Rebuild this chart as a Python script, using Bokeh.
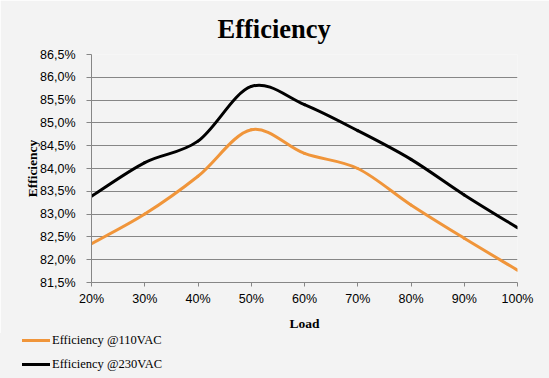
from bokeh.plotting import figure
from bokeh.models import Range1d, FixedTicker, ColumnDataSource, Div
from bokeh.layouts import column
from bokeh.embed import file_html
from bokeh.resources import INLINE

# ---- data ----
load = [20, 30, 40, 50, 60, 70, 80, 90, 100]
eff_110 = [82.35, 83.0, 83.83, 84.85, 84.33, 84.0, 83.2, 82.47, 81.77]
eff_230 = [83.39, 84.13, 84.6, 85.8, 85.4, 84.83, 84.2, 83.42, 82.7]
series_names = ["Efficiency @110VAC", "Efficiency @230VAC"]
x_ticks = [20, 30, 40, 50, 60, 70, 80, 90, 100]
x_tick_labels = ["20%", "30%", "40%", "50%", "60%", "70%", "80%", "90%", "100%"]
y_ticks = [81.5, 82.0, 82.5, 83.0, 83.5, 84.0, 84.5, 85.0, 85.5, 86.0, 86.5]
y_tick_labels = ["81,5%", "82,0%", "82,5%", "83,0%", "83,5%", "84,0%",
                 "84,5%", "85,0%", "85,5%", "86,0%", "86,5%"]

BG = "#f3f3f3"
GRID = "#868686"
ORANGE = "#F0953A"
BLACK = "#000000"
SANS = "Liberation Sans"
SERIF = "Liberation Serif"
series_colors = [ORANGE, BLACK]


def smooth_segments(xs, ys):
    """Bezier control points for an Excel-like smoothed line through the data."""
    n = len(xs)
    d = dict(x0=[], y0=[], x1=[], y1=[], cx0=[], cy0=[], cx1=[], cy1=[])
    for i in range(n - 1):
        xm, ym = (xs[i - 1], ys[i - 1]) if i > 0 else (xs[i], ys[i])
        xp, yp = (xs[i + 2], ys[i + 2]) if i + 2 < n else (xs[i + 1], ys[i + 1])
        d["x0"].append(xs[i]); d["y0"].append(ys[i])
        d["x1"].append(xs[i + 1]); d["y1"].append(ys[i + 1])
        d["cx0"].append(xs[i] + (xs[i + 1] - xm) / 6.0)
        d["cy0"].append(ys[i] + (ys[i + 1] - ym) / 6.0)
        d["cx1"].append(xs[i + 1] - (xp - xs[i]) / 6.0)
        d["cy1"].append(ys[i + 1] - (yp - ys[i]) / 6.0)
    return ColumnDataSource(d)


p = figure(width=549, height=333, output_backend="svg", toolbar_location=None,
           x_range=Range1d(20, 100), y_range=Range1d(81.5, 86.5),
           min_border_left=91, min_border_right=32, min_border_top=54, min_border_bottom=48)
p.background_fill_color = BG
p.border_fill_color = BG
p.outline_line_color = None

p.title.text = "Efficiency"
p.title.align = "left"
p.title.offset = 126
p.title.text_font = SERIF
p.title.text_font_style = "bold"
p.title.text_font_size = "26.5px"
p.title.text_color = "#000000"
p.title.standoff = 22

# axes
p.xaxis.ticker = FixedTicker(ticks=x_ticks)
p.xaxis.major_label_overrides = {t: l for t, l in zip(x_ticks, x_tick_labels)}
p.yaxis.ticker = FixedTicker(ticks=y_ticks)
p.yaxis.major_label_overrides = {t: l for t, l in zip(y_ticks, y_tick_labels)}
for ax in (p.xaxis[0], p.yaxis[0]):
    ax.axis_line_color = GRID
    ax.major_tick_line_color = GRID
    ax.major_tick_in = 0
    ax.minor_tick_line_color = None
    ax.major_label_text_font = SANS
    ax.major_label_text_font_size = "12.5px"
    ax.major_label_text_color = "#000000"
    ax.axis_label_text_font = SERIF
    ax.axis_label_text_font_style = "bold"
    ax.axis_label_text_font_size = "13.5px"
    ax.axis_label_text_color = "#000000"
p.yaxis.major_tick_out = 5
p.xaxis.major_tick_out = 4
p.yaxis.major_label_standoff = 11
p.xaxis.major_label_standoff = 5
p.xaxis.axis_label = "Load"
p.yaxis.axis_label = "Efficiency"
p.xaxis.axis_label_standoff = 7
p.yaxis.axis_label_standoff = -3

p.xgrid.grid_line_color = None
p.ygrid.grid_line_color = GRID
p.ygrid.grid_line_width = 1

for ys, col in zip([eff_110, eff_230], series_colors):
    p.bezier(x0="x0", y0="y0", x1="x1", y1="y1", cx0="cx0", cy0="cy0",
             cx1="cx1", cy1="cy1", source=smooth_segments(load, ys),
             line_color=col, line_width=3, line_cap="round")

# legend strip below the chart (HTML, real text)
rows = []
for i, (name, col) in enumerate(zip(series_names, series_colors)):
    top = i * 24
    rows.append(
        f'<div style="position:absolute;left:22px;top:{top}px;height:12px;line-height:12px;'
        f'white-space:nowrap;">'
        f'<span style="display:inline-block;width:28px;height:3px;background:{col};'
        f'vertical-align:middle;"></span>'
        f'<span style="margin-left:2px;vertical-align:middle;">{name}</span></div>')
html = (f'<div style="position:relative;width:549px;height:45px;background:{BG};'
        f'font-family:\'{SERIF}\';font-size:12.5px;color:#000;">' + "".join(rows) + '</div>')
legend_div = Div(text=html, width=549, height=45, margin=(0, 0, 0, 0),
                 styles={"background-color": BG})

layout = column(p, legend_div, spacing=0)
open("out.html", "w").write(file_html(layout, INLINE))
